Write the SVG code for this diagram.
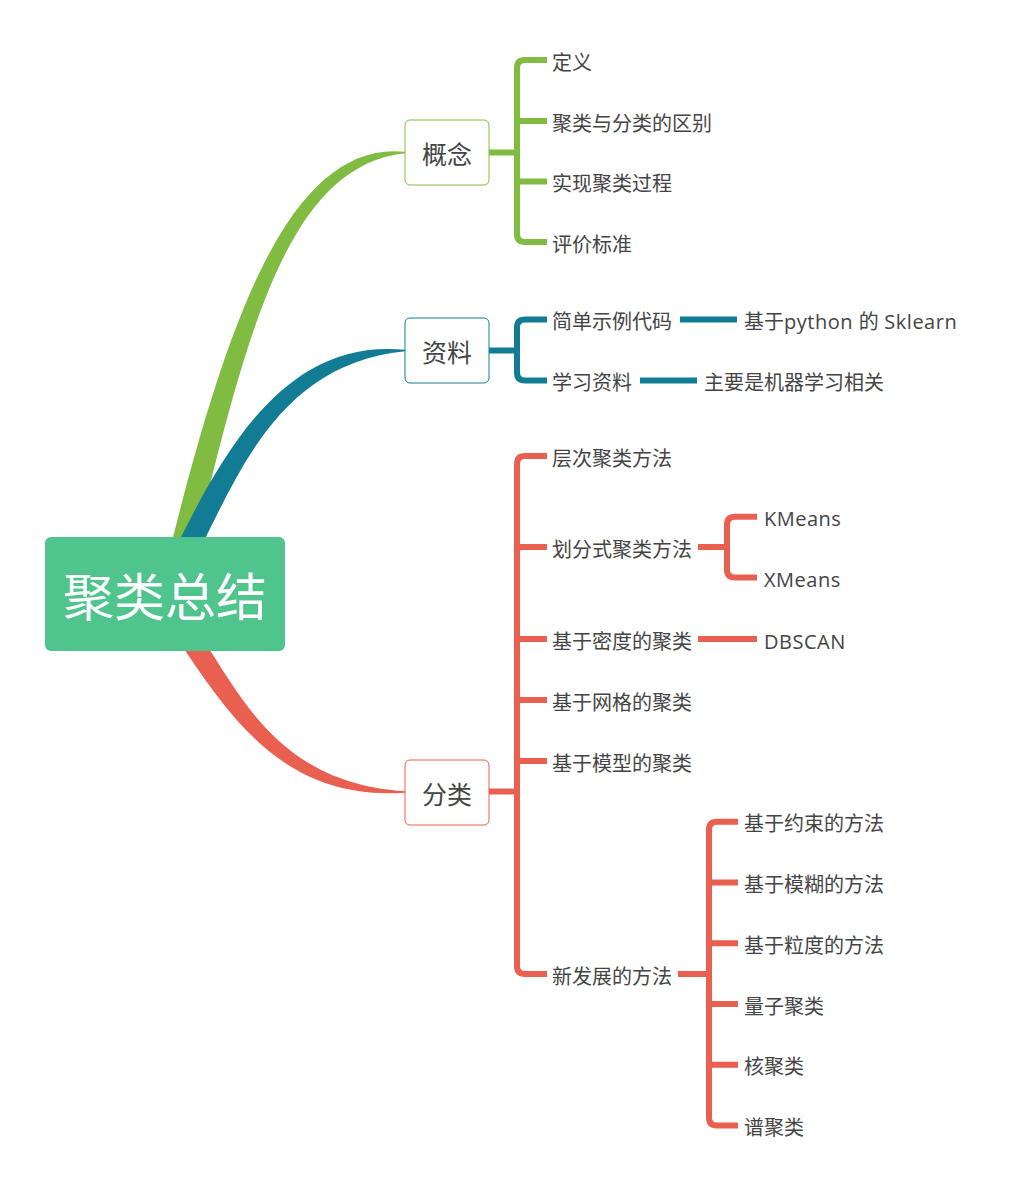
<svg xmlns="http://www.w3.org/2000/svg" width="1017" height="1195" viewBox="0 0 1017 1195">
  <style>
    .lbl { font-family: "Open Sans", "Noto Sans CJK SC", sans-serif; font-size: 20px; fill: #444444; }
    .lat { letter-spacing: 0.5px; }
    .topic { font-family: "Open Sans", "Noto Sans CJK SC", sans-serif; font-size: 25px; fill: #444444; text-anchor: middle; }
    .root-text { font-family: "Open Sans", "Noto Sans CJK SC", sans-serif; font-size: 51px; fill: #ffffff; text-anchor: middle; }
    .ln { fill: none; stroke-width: 6; stroke-linecap: butt; stroke-linejoin: round; }
    .g { stroke: #80BC42; }
    .b { stroke: #137C95; }
    .r { stroke: #E95F50; }
    .box { fill: #ffffff; stroke-width: 1; }
  </style>

  <!-- tapered branches from the central topic -->
  <g id="connectors">
    <path d="M171,545 C224.3,334.3 286,139.5 405,151.8 L405,153.2 C286,165.5 245.7,339.7 195,545 Z" fill="#80BC42"/>
    <path d="M177,545 C223.7,452.1 285,337.5 405,349.8 L405,351.2 C285,363.5 243.3,461.9 202,545 Z" fill="#137C95"/>
    <path d="M180,643 C229.7,716.5 284,801 405,792.7 L405,791.3 C284,783 246.3,705.5 205.2,643 Z" fill="#E95F50"/>

    <!-- 概念 brackets -->
    <path class="ln g" d="M489,152.5 H517"/>
    <path class="ln g" d="M547,60 H525 Q517,60 517,68 V234 Q517,242 525,242 H547"/>
    <path class="ln g" d="M517,121 H547 M517,181.5 H547"/>

    <!-- 资料 brackets -->
    <path class="ln b" d="M489,350.5 H517"/>
    <path class="ln b" d="M547,319.5 H525 Q517,319.5 517,327.5 V372.5 Q517,380.5 525,380.5 H547"/>
    <path class="ln b" d="M680,319.5 H737 M640,380.5 H697"/>

    <!-- 分类 brackets -->
    <path class="ln r" d="M489,791.5 H517"/>
    <path class="ln r" d="M547,456 H525 Q517,456 517,464 V966 Q517,974 525,974 H547"/>
    <path class="ln r" d="M517,547 H547 M517,639 H547 M517,700 H547 M517,761 H547"/>
    <path class="ln r" d="M698,547 H727"/>
    <path class="ln r" d="M757,516.7 H735 Q727,516.7 727,524.7 V569.5 Q727,577.5 735,577.5 H757"/>
    <path class="ln r" d="M698,639 H757"/>
    <path class="ln r" d="M678,974 H709"/>
    <path class="ln r" d="M738,821.7 H717 Q709,821.7 709,829.7 V1117.6 Q709,1125.6 717,1125.6 H738"/>
    <path class="ln r" d="M709,882.5 H738 M709,943.3 H738 M709,1004 H738 M709,1064.8 H738"/>
  </g>

  <!-- central topic -->
  <g id="root">
    <rect x="45" y="537" width="240" height="114" rx="6" fill="#50C48D"/>
    <text class="root-text" x="165" y="615.5">聚类总结</text>
  </g>

  <!-- main topics -->
  <g id="topic-concept">
    <rect class="box" x="405" y="120" width="84" height="65" rx="5" stroke="#80BC42"/>
    <text class="topic" x="447" y="163.7">概念</text>
  </g>
  <g id="topic-material">
    <rect class="box" x="405" y="318" width="84" height="65" rx="5" stroke="#137C95"/>
    <text class="topic" x="447" y="361.7">资料</text>
  </g>
  <g id="topic-category">
    <rect class="box" x="405" y="760" width="84" height="65" rx="5" stroke="#E95F50"/>
    <text class="topic" x="447" y="803.7">分类</text>
  </g>

  <!-- 概念 subtopics -->
  <g id="concept-children">
    <g id="n-def"><text class="lbl" x="552" y="69.5">定义</text></g>
    <g id="n-diff"><text class="lbl" x="552" y="130.5">聚类与分类的区别</text></g>
    <g id="n-process"><text class="lbl" x="552" y="191">实现聚类过程</text></g>
    <g id="n-eval"><text class="lbl" x="552" y="251.5">评价标准</text></g>
  </g>

  <!-- 资料 subtopics -->
  <g id="material-children">
    <g id="n-code"><text class="lbl" x="552" y="329">简单示例代码</text></g>
    <g id="n-sklearn"><text class="lbl" x="744" y="329">基于<tspan class="lat">python </tspan>的<tspan class="lat"> Sklearn</tspan></text></g>
    <g id="n-study"><text class="lbl" x="552" y="390">学习资料</text></g>
    <g id="n-ml"><text class="lbl" x="704" y="390">主要是机器学习相关</text></g>
  </g>

  <!-- 分类 subtopics -->
  <g id="category-children">
    <g id="n-hier"><text class="lbl" x="552" y="465.5">层次聚类方法</text></g>
    <g id="n-part"><text class="lbl" x="552" y="556.5">划分式聚类方法</text></g>
    <g id="n-kmeans"><text class="lbl lat" x="764" y="526">KMeans</text></g>
    <g id="n-xmeans"><text class="lbl lat" x="764" y="586.5">XMeans</text></g>
    <g id="n-density"><text class="lbl" x="552" y="648.5">基于密度的聚类</text></g>
    <g id="n-dbscan"><text class="lbl lat" x="764" y="648.5">DBSCAN</text></g>
    <g id="n-grid"><text class="lbl" x="552" y="709.5">基于网格的聚类</text></g>
    <g id="n-model"><text class="lbl" x="552" y="770.5">基于模型的聚类</text></g>
    <g id="n-new"><text class="lbl" x="552" y="983.5">新发展的方法</text></g>
    <g id="n-constraint"><text class="lbl" x="744" y="831.2">基于约束的方法</text></g>
    <g id="n-fuzzy"><text class="lbl" x="744" y="892">基于模糊的方法</text></g>
    <g id="n-granular"><text class="lbl" x="744" y="952.8">基于粒度的方法</text></g>
    <g id="n-quantum"><text class="lbl" x="744" y="1013.5">量子聚类</text></g>
    <g id="n-kernel"><text class="lbl" x="744" y="1074.3">核聚类</text></g>
    <g id="n-spectral"><text class="lbl" x="744" y="1135.1">谱聚类</text></g>
  </g>
</svg>
